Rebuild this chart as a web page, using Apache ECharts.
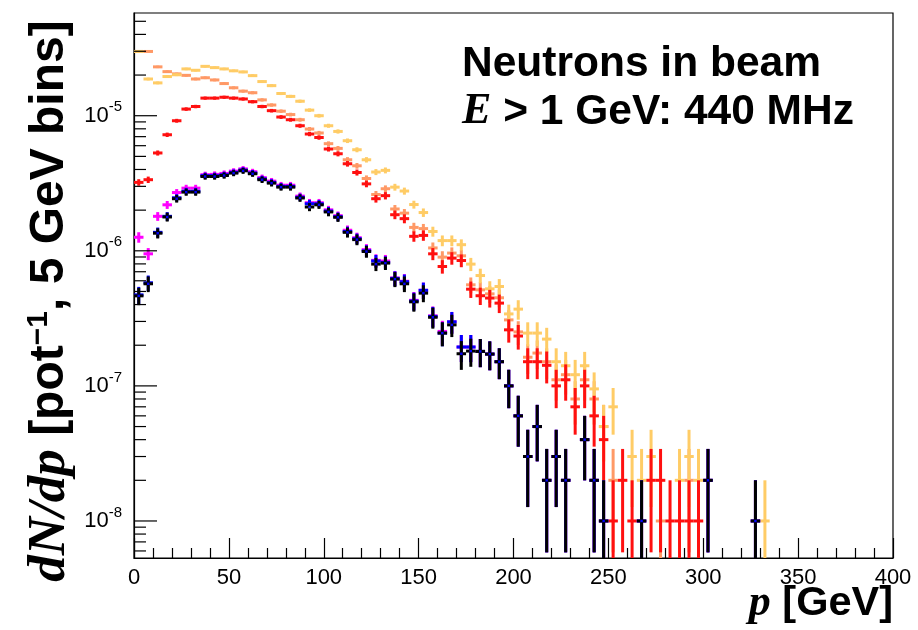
<!DOCTYPE html>
<html>
<head>
<meta charset="utf-8">
<script src="https://cdn.jsdelivr.net/npm/echarts@6/dist/echarts.min.js"></script>
<style>
  html, body { margin: 0; padding: 0; background: #fff; }
  #chart { width: 918px; height: 630px; }
</style>
</head>
<body>
<div id="chart"></div>
<script>
// Momentum spectrum of neutrons in the beam, 5 GeV bins.
const binWidth = 5;        // GeV
const entryWeight = 1e-8;  // dN/dp carried by one simulated entry (sets the Poisson error)

const binCenters = [
  2.5, 7.5, 12.5, 17.5, 22.5, 27.5, 32.5, 37.5, 42.5, 47.5,
  52.5, 57.5, 62.5, 67.5, 72.5, 77.5, 82.5, 87.5, 92.5, 97.5,
  102.5, 107.5, 112.5, 117.5, 122.5, 127.5, 132.5, 137.5, 142.5, 147.5,
  152.5, 157.5, 162.5, 167.5, 172.5, 177.5, 182.5, 187.5, 192.5, 197.5,
  202.5, 207.5, 212.5, 217.5, 222.5, 227.5, 232.5, 237.5, 242.5, 247.5,
  252.5, 257.5, 262.5, 267.5, 272.5, 277.5, 282.5, 287.5, 292.5, 297.5,
  302.5, 307.5, 312.5, 317.5, 322.5, 327.5, 332.5
];

const goldValues = [
  2.99e-5, 1.87e-5, 1.75e-5, 1.95e-5, 2.01e-5, 2.22e-5, 2.17e-5, 2.32e-5, 2.27e-5, 2.22e-5,
  2.15e-5, 2.11e-5, 1.98e-5, 1.79e-5, 1.67e-5, 1.46e-5, 1.39e-5, 1.28e-5, 1.10e-5, 1.00e-5,
  8.43e-6, 7.65e-6, 6.53e-6, 5.60e-6, 4.72e-6, 3.83e-6, 3.94e-6, 2.96e-6, 2.77e-6, 2.20e-6,
  1.92e-6, 1.39e-6, 1.19e-6, 1.19e-6, 1.11e-6, 7.97e-7, 6.56e-7, 5.23e-7, 5.44e-7, 3.41e-7,
  3.70e-7, 2.46e-7, 2.46e-7, 2.22e-7, 1.51e-7, 1.41e-7, 1.21e-7, 1.41e-7, 9.5e-8, 5e-8,
  7e-8, null, 3e-8, 2e-8, 3e-8, null, null, 2e-8, 3e-8, 2e-8,
  null, null, null, null, null, null, 1e-8
];

const salmonValues = [
  2.99e-5, 2.99e-5, 2.30e-5, 2.12e-5, 2.04e-5, 1.99e-5, 1.87e-5, 1.91e-5, 1.84e-5, 1.73e-5,
  1.61e-5, 1.52e-5, 1.48e-5, 1.31e-5, 1.20e-5, 1.08e-5, 1.02e-5, 9.34e-6, 7.97e-6, 7.45e-6,
  6.21e-6, 5.73e-6, 4.72e-6, 4.26e-6, 3.43e-6, 2.61e-6, 2.88e-6, 2.04e-6, 1.90e-6, 1.49e-6,
  1.46e-6, 1.05e-6, 8.98e-7, 9.62e-7, 9.18e-7, 5.60e-7, 5.14e-7, 4.80e-7, 4.49e-7, 3.08e-7,
  2.51e-7, 1.63e-7, 1.75e-7, 1.51e-7, 1.11e-7, 1.21e-7, 8e-8, 1.11e-7, 8e-8, 5e-8,
  2e-8, null, null, null, null, 1e-8, null, null, 2e-8
];

const redValues = [
  3.21e-6, 3.36e-6, 5.30e-6, 7.23e-6, 9.18e-6, 1.12e-5, 1.17e-5, 1.35e-5, 1.35e-5, 1.37e-5,
  1.35e-5, 1.33e-5, 1.27e-5, 1.17e-5, 1.09e-5, 9.78e-6, 9.34e-6, 8.43e-6, 7.32e-6, 6.90e-6,
  5.67e-6, 5.23e-6, 4.41e-6, 3.80e-6, 3.13e-6, 2.43e-6, 2.56e-6, 1.85e-6, 1.73e-6, 1.28e-6,
  1.30e-6, 9.50e-7, 7.65e-7, 8.83e-7, 8.48e-7, 5.20e-7, 4.65e-7, 4.47e-7, 4.10e-7, 2.60e-7,
  2.34e-7, 1.51e-7, 1.51e-7, 1.42e-7, 1.0e-7, 1.11e-7, 7e-8, 1.0e-7, 6e-8, 4e-8,
  1e-8, 2e-8, 1e-8, null, 2e-8, 2e-8, 1e-8, 1e-8, 1e-8, 1e-8
];

const magentaValues = [
  1.26e-6, 9.50e-7, 1.80e-6, 2.19e-6, 2.70e-6, 2.91e-6, 2.91e-6, 3.66e-6, 3.68e-6, 3.74e-6,
  3.89e-6, 4.04e-6, 3.85e-6, 3.48e-6, 3.28e-6, 3.06e-6, 3.06e-6, 2.54e-6, 2.27e-6, 2.27e-6,
  2.01e-6, 1.82e-6, 1.42e-6, 1.25e-6, 1.02e-6, 8.5e-7, 8.4e-7, 6.3e-7, 5.95e-7, 4.3e-7,
  5.1e-7, 3.3e-7, 2.53e-7, 2.98e-7, 1.94e-7, 1.94e-7, 1.80e-7, 1.72e-7, 1.51e-7, 1e-7,
  6e-8, 3e-8, 5e-8, 2e-8, 3e-8, 2e-8, null, 4e-8, 2e-8, 1e-8,
  null, null, null, 1e-8, null, null, null, null, null, null,
  2e-8, null, null, null, null, 1e-8
];

const blueValues = [
  4.72e-7, 5.80e-7, 1.37e-6, 1.80e-6, 2.47e-6, 2.76e-6, 2.76e-6, 3.60e-6, 3.60e-6, 3.66e-6,
  3.81e-6, 3.96e-6, 3.77e-6, 3.41e-6, 3.21e-6, 3.00e-6, 3.00e-6, 2.49e-6, 2.23e-6, 2.23e-6,
  1.97e-6, 1.79e-6, 1.39e-6, 1.23e-6, 1.0e-6, 8.4e-7, 8.2e-7, 6.25e-7, 5.9e-7, 4.25e-7,
  5.1e-7, 3.27e-7, 2.46e-7, 2.98e-7, 1.94e-7, 1.94e-7, 1.80e-7, 1.72e-7, 1.51e-7, 1e-7,
  6e-8, 3e-8, 5e-8, 2e-8, 3e-8, 2e-8, null, 4e-8, 2e-8, 1e-8,
  null, null, null, 1e-8, null, null, null, null, null, null,
  2e-8, null, null, null, null, 1e-8
];

const blackValues = [
  4.64e-7, 5.70e-7, 1.35e-6, 1.78e-6, 2.43e-6, 2.72e-6, 2.72e-6, 3.55e-6, 3.55e-6, 3.61e-6,
  3.76e-6, 3.91e-6, 3.72e-6, 3.36e-6, 3.17e-6, 2.96e-6, 2.96e-6, 2.46e-6, 2.11e-6, 2.19e-6,
  1.94e-6, 1.77e-6, 1.37e-6, 1.21e-6, 9.88e-7, 7.97e-7, 8.11e-7, 6.17e-7, 5.70e-7, 4.19e-7,
  4.86e-7, 3.22e-7, 2.46e-7, 2.83e-7, 1.73e-7, 1.81e-7, 1.80e-7, 1.72e-7, 1.51e-7, 1e-7,
  6e-8, 3e-8, 5e-8, 2e-8, 3e-8, 2e-8, null, 4e-8, 2e-8, 1e-8,
  null, null, null, 1e-8, null, null, null, null, null, null,
  2e-8, null, null, null, null, 1e-8
];

// Axis decoration
const yDecadeExponents = [-8, -7, -6, -5];
const yMinorMultipliers = [2, 3, 4, 5, 6, 7, 8, 9];
const Y_MIN = 5.32e-9;
const Y_MAX = 5.76e-5;

const SANS = '"Liberation Sans", Arial, Helvetica, sans-serif';
const SERIF = '"Liberation Serif", "Times New Roman", serif';

function toPoints(values) {
  const pts = [];
  values.forEach(function (v, i) {
    if (v == null) return;
    pts.push([binCenters[i], v, Math.sqrt(v / entryWeight) * entryWeight]);
  });
  return pts;
}

// Histogram drawn as error crosses: horizontal bar spans the bin, vertical bar the error.
function crossRenderer(color, gap) {
  return function (params, api) {
    const x = api.value(0), y = api.value(1), err = api.value(2);
    const c = api.coord([x, y]);
    const l = api.coord([x - binWidth / 2, y])[0];
    const r = api.coord([x + binWidth / 2, y])[0];
    const top = api.coord([x, y + err])[1];
    const lowVal = y - err > Y_MIN ? y - err : Y_MIN / 2;
    const bot = api.coord([x, lowVal])[1];
    const style = { stroke: color, lineWidth: 3, fill: null };
    const segs = gap > 0
      ? [[l, c[1], c[0] - gap, c[1]], [c[0] + gap, c[1], r, c[1]],
         [c[0], top, c[0], c[1] - gap], [c[0], c[1] + gap, c[0], bot]]
      : [[l, c[1], r, c[1]], [c[0], top, c[0], bot]];
    return {
      type: 'group',
      children: segs.map(function (s) {
        return { type: 'line', shape: { x1: s[0], y1: s[1], x2: s[2], y2: s[3] }, style: style };
      })
    };
  };
}

function histSeries(name, values, color, gap, z) {
  return {
    name: name,
    type: 'custom',
    clip: true,
    z: z,
    renderItem: crossRenderer(color, gap || 0),
    encode: { x: 0, y: 1 },
    data: toPoints(values)
  };
}

// Tick marks of the logarithmic axis (decades long, 2..9 short), pointing inwards.
const yTickData = [];
[-9].concat(yDecadeExponents).forEach(function (e) {
  if (e > -9) yTickData.push([0, Math.pow(10, e), 1]);
  yMinorMultipliers.forEach(function (m) {
    const v = m * Math.pow(10, e);
    if (v > Y_MIN && v < Y_MAX) yTickData.push([0, v, 0]);
  });
});

const tickSeries = {
  type: 'custom',
  z: 20,
  silent: true,
  clip: false,
  renderItem: function (params, api) {
    const p = api.coord([0, api.value(1)]);
    const len = api.value(2) ? 23 : 12;
    return {
      type: 'line',
      shape: { x1: p[0], y1: p[1], x2: p[0] + len, y2: p[1] },
      style: { stroke: '#000', lineWidth: 1.2 }
    };
  },
  encode: { x: 0, y: 1 },
  data: yTickData
};

const chart = echarts.init(document.getElementById('chart'));

chart.setOption({
  animation: false,
  backgroundColor: '#fff',
  grid: {
    left: 134, right: 25, top: 13, bottom: 72,
    show: true, borderColor: '#000', borderWidth: 1.2, backgroundColor: 'transparent'
  },
  xAxis: {
    type: 'value',
    min: 0, max: 400, interval: 50,
    axisLine: { show: true, onZero: false, lineStyle: { color: '#000', width: 1.2 } },
    axisTick: { show: true, inside: true, length: 20, lineStyle: { color: '#000', width: 1.2 } },
    minorTick: { show: true, splitNumber: 5, length: 10, lineStyle: { color: '#000', width: 1.2 } },
    splitLine: { show: false },
    axisLabel: { color: '#000', fontFamily: SANS, fontSize: 22, margin: 9 }
  },
  yAxis: {
    type: 'log',
    logBase: 10,
    min: Y_MIN, max: Y_MAX,
    splitNumber: 4,
    axisLine: { show: true, lineStyle: { color: '#000', width: 1.2 } },
    axisTick: { show: false },
    splitLine: { show: false },
    axisLabel: {
      showMinLabel: false,
      showMaxLabel: false,
      margin: 12,
      formatter: function (v) {
        const e = Math.log10(v);
        const k = Math.round(e);
        if (Math.abs(e - k) > 1e-6 || yDecadeExponents.indexOf(k) < 0) return '';
        return '{b|10}{s|' + k + '}';
      },
      rich: {
        b: { fontFamily: SANS, fontSize: 22, color: '#000', lineHeight: 32 },
        s: { fontFamily: SANS, fontSize: 15, color: '#000', verticalAlign: 'top', lineHeight: 17 }
      }
    }
  },
  graphic: [
    {
      type: 'text', x: 462, y: 64, z: 50,
      style: {
        text: 'Neutrons in beam', fill: '#000',
        font: 'bold 42.5px ' + SANS, verticalAlign: 'middle', textVerticalAlign: 'middle'
      }
    },
    {
      type: 'text', x: 462, y: 112, z: 50,
      style: {
        text: '{e|E}{t| > 1 GeV: 440 MHz}',
        verticalAlign: 'middle', textVerticalAlign: 'middle',
        rich: {
          e: { fontFamily: SERIF, fontStyle: 'italic', fontWeight: 'bold', fontSize: 44, fill: '#000' },
          t: { fontFamily: SANS, fontWeight: 'bold', fontSize: 42.5, fill: '#000' }
        }
      }
    },
    {
      type: 'text', x: 50, y: 301, rotation: Math.PI / 2, z: 50,
      style: {
        text: '{i|dN/dp}{t| [pot}{s|\u22121}{t|, 5 GeV bins]}',
        align: 'center', textAlign: 'center', verticalAlign: 'middle', textVerticalAlign: 'middle',
        rich: {
          i: { fontFamily: SERIF, fontStyle: 'italic', fontWeight: 'bold', fontSize: 53, fill: '#000' },
          t: { fontFamily: SANS, fontWeight: 'bold', fontSize: 48, fill: '#000' },
          s: { fontFamily: SANS, fontWeight: 'bold', fontSize: 30, fill: '#000', verticalAlign: 'top' }
        }
      }
    },
    {
      type: 'text', x: 893, y: 604, z: 50,
      style: {
        text: '{i|p}{t| [GeV]}',
        align: 'right', textAlign: 'right', verticalAlign: 'middle', textVerticalAlign: 'middle',
        rich: {
          i: { fontFamily: SERIF, fontStyle: 'italic', fontWeight: 'bold', fontSize: 44, fill: '#000' },
          t: { fontFamily: SANS, fontWeight: 'bold', fontSize: 41.5, fill: '#000' }
        }
      }
    }
  ],
  series: [
    histSeries('salmon', salmonValues, '#ff9966', 0, 2),
    histSeries('gold', goldValues, '#ffcc66', 0, 3),
    histSeries('red', redValues, '#ff1010', 0, 4),
    histSeries('magenta', magentaValues, '#ff00ff', 0, 5),
    histSeries('blue', blueValues, '#0000ff', 0, 6),
    histSeries('black', blackValues, '#000000', 1.2, 7),
    tickSeries
  ]
});
</script>
</body>
</html>
